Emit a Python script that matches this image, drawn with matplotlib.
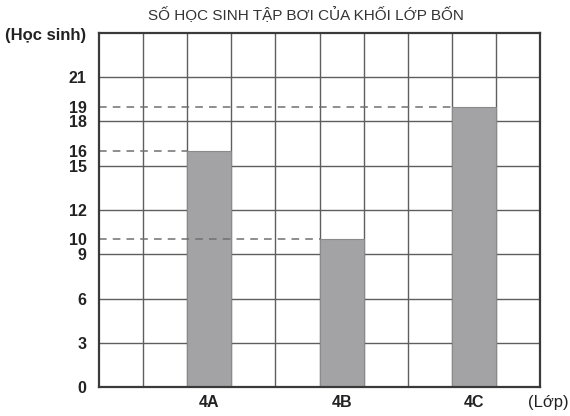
import matplotlib
matplotlib.use("Agg")
import matplotlib.pyplot as plt

plt.rcParams['font.family'] = ['Liberation Sans', 'DejaVu Sans']

title = "SỐ HỌC SINH TẬP BƠI CỦA KHỐI LỚP BỐN"
categories = ["4A", "4B", "4C"]
values = [16, 10, 19]
positions = [2.5, 5.5, 8.5]
ytick_values = [0, 3, 6, 9, 10, 12, 15, 16, 18, 19, 21]
y_label = "(Học sinh)"
x_label = "(Lớp)"

fig = plt.figure(figsize=(5.7, 4.16), dpi=100)
ax = fig.add_axes([0.1737, 0.0697, 0.9474 - 0.1737, 0.9207 - 0.0697])

ax.set_xlim(0, 10)
ax.set_ylim(0, 24)

grid_color = "#5e5e5e"
for x in range(1, 10):
    ax.axvline(x, color=grid_color, lw=1.0, zorder=1)
for y in range(3, 24, 3):
    ax.axhline(y, color=grid_color, lw=1.0, zorder=1)

ax.bar(positions, values, width=1.0, color="#a3a3a6", edgecolor="#8a8a8d",
       linewidth=0.8, zorder=2)

for p, v in zip(positions, values):
    ax.hlines(v, 0, p - 0.5, colors="#707070", linestyles=(0, (5, 4)),
              lw=1.1, zorder=3)

for s in ax.spines.values():
    s.set_color("#3a3a3a")
    s.set_linewidth(1.6)
    s.set_zorder(4)

ax.set_yticks(ytick_values)
ax.set_yticklabels([str(v) for v in ytick_values])
ax.set_xticks(positions)
ax.set_xticklabels(categories)
ax.tick_params(axis='both', length=0, labelsize=11.5, colors="#222222")
ax.tick_params(axis='y', pad=9)
ax.tick_params(axis='x', pad=6)
for lab in ax.get_xticklabels() + ax.get_yticklabels():
    lab.set_fontweight("bold")

fig.text(0.537, 0.963, title, ha="center", va="center", fontsize=11,
         color="#333333")
fig.text(0.009, 0.915, y_label, ha="left", va="center", fontsize=12,
         fontweight="bold", color="#222222")
fig.text(0.998, 0.033, x_label, ha="right", va="center", fontsize=12,
         color="#222222")

fig.savefig("out.png", dpi=100)
